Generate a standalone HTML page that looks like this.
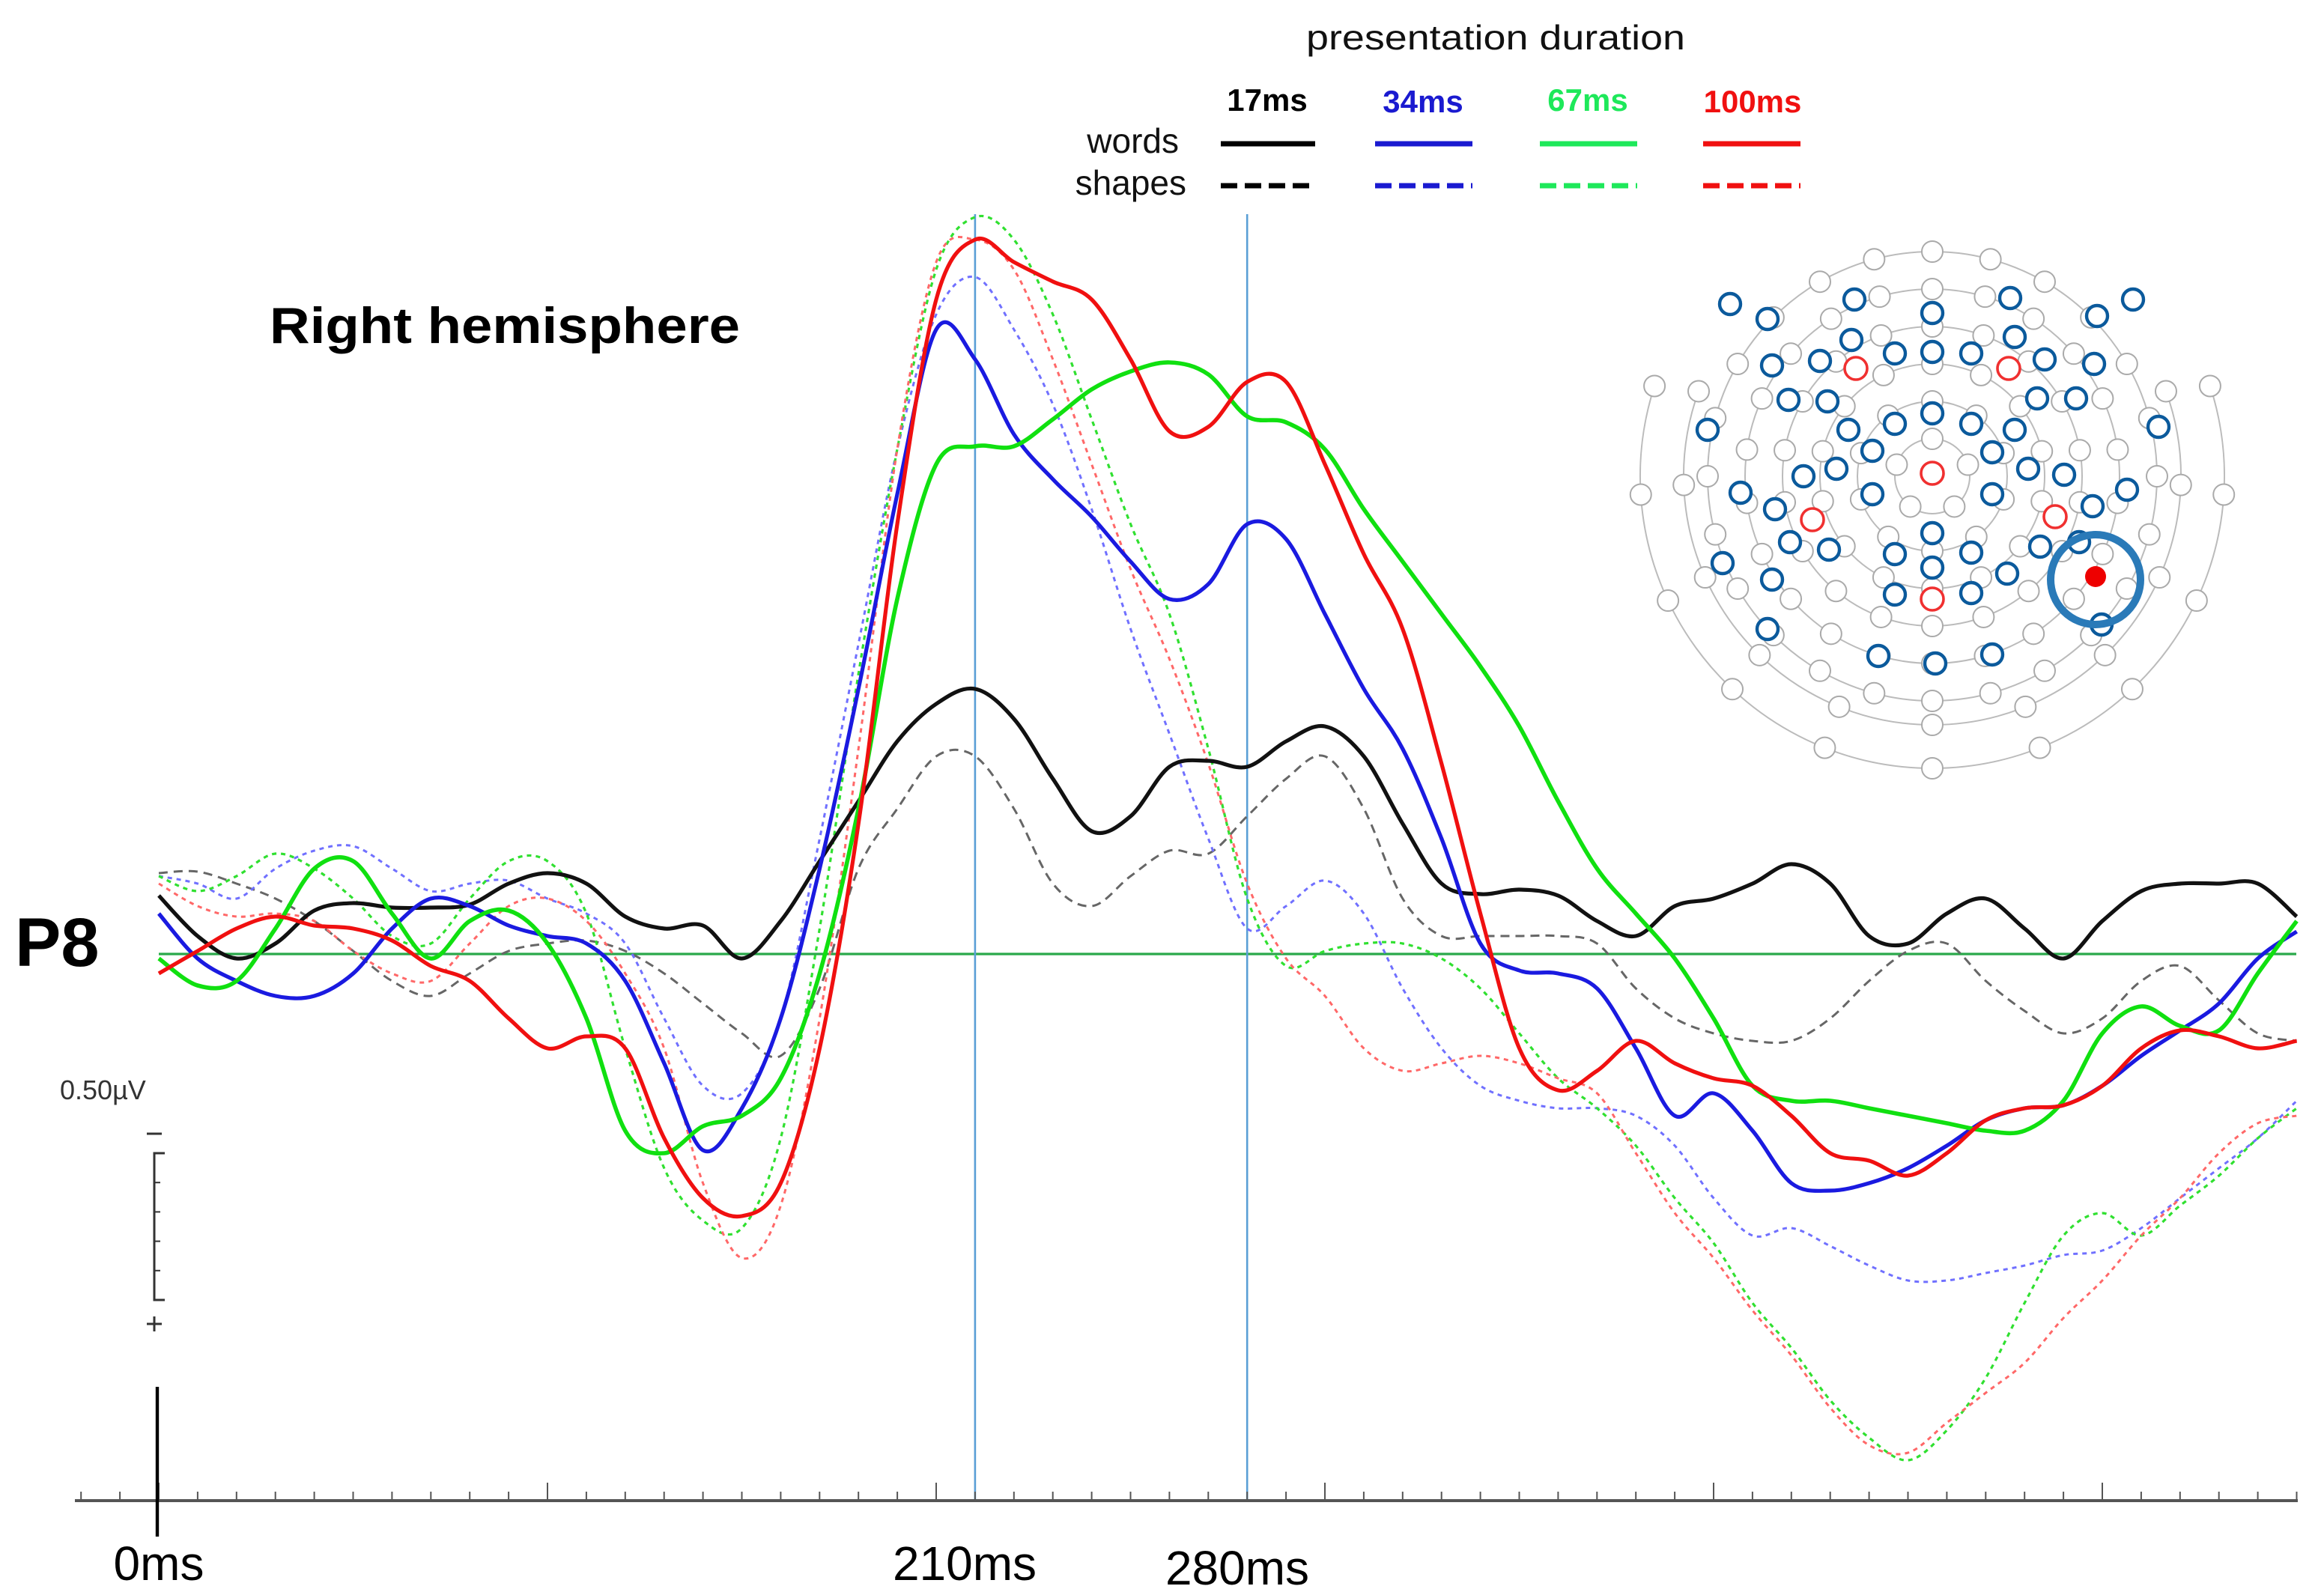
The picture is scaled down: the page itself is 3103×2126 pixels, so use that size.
<!DOCTYPE html>
<html><head><meta charset="utf-8"><style>
html,body{margin:0;padding:0;background:#fff;}
svg{display:block;}
text{font-family:"Liberation Sans",sans-serif;}
</style></head><body>
<svg id="chart" width="3103" height="2126" viewBox="0 0 1551.5 1063" preserveAspectRatio="none" xmlns="http://www.w3.org/2000/svg">
<g id="axes"></g>
<g id="series"></g>
<g id="head"></g>
<g id="labels">
<text x="872" y="33" font-size="23" textLength="253" lengthAdjust="spacingAndGlyphs" fill="#111">presentation duration</text>
<text x="846" y="74" font-size="21" font-weight="bold" text-anchor="middle" fill="#000">17ms</text>
<text x="950" y="75" font-size="21" font-weight="bold" text-anchor="middle" fill="#1a1ad0">34ms</text>
<text x="1060" y="74" font-size="21" font-weight="bold" text-anchor="middle" fill="#1ee85a">67ms</text>
<text x="1170" y="75" font-size="21" font-weight="bold" text-anchor="middle" fill="#f01010">100ms</text>
<text x="787" y="102" font-size="23" text-anchor="end" fill="#111">words</text>
<text x="792" y="130" font-size="23" text-anchor="end" fill="#111">shapes</text>
<text x="180" y="229" font-size="34" font-weight="bold" textLength="314" lengthAdjust="spacingAndGlyphs" fill="#000">Right hemisphere</text>
<text x="10" y="645" font-size="46" font-weight="bold" fill="#000">P8</text>
<text x="40" y="734" font-size="18" fill="#333">0.50µV</text>
<text x="106" y="1055" font-size="32" text-anchor="middle" fill="#000">0ms</text>
<text x="644" y="1055" font-size="32" text-anchor="middle" fill="#000">210ms</text>
<text x="826" y="1058" font-size="32" text-anchor="middle" fill="#000">280ms</text>
</g>
</svg>
<script>
const times=[];for(let t=0;t<=550;t+=10)times.push(t);
const wordsBlack=[-0.39,-0.12,0.03,-0.07,-0.29,-0.34,-0.31,-0.31,-0.33,-0.47,-0.54,-0.47,-0.25,-0.17,-0.19,0.03,-0.22,-0.62,-1.02,-1.42,-1.67,-1.77,-1.57,-1.17,-0.82,-0.92,-1.25,-1.29,-1.25,-1.42,-1.52,-1.32,-0.87,-0.47,-0.40,-0.43,-0.39,-0.22,-0.12,-0.32,-0.37,-0.47,-0.60,-0.47,-0.12,-0.07,-0.27,-0.37,-0.17,0.03,-0.22,-0.42,-0.47,-0.47,-0.47,-0.25];
const shapesBlack=[-0.54,-0.55,-0.47,-0.37,-0.22,-0.02,0.18,0.28,0.13,-0.02,-0.07,-0.09,-0.02,0.13,0.33,0.53,0.68,0.23,-0.57,-0.97,-1.32,-1.32,-0.97,-0.47,-0.32,-0.52,-0.69,-0.67,-0.92,-1.17,-1.32,-0.97,-0.37,-0.12,-0.12,-0.12,-0.12,-0.07,0.23,0.43,0.53,0.58,0.58,0.43,0.18,-0.02,-0.07,0.18,0.38,0.53,0.43,0.18,0.08,0.31,0.53,0.58];
const wordsBlue=[-0.27,0.03,0.18,0.28,0.28,0.13,-0.17,-0.37,-0.32,-0.19,-0.12,-0.07,0.18,0.73,1.31,1.03,0.43,-0.57,-1.77,-3.07,-4.17,-3.97,-3.47,-3.17,-2.92,-2.62,-2.37,-2.47,-2.87,-2.77,-2.27,-1.77,-1.37,-0.77,-0.07,0.11,0.13,0.23,0.63,1.08,0.93,1.18,1.53,1.58,1.53,1.43,1.28,1.11,1.03,1.01,0.88,0.68,0.51,0.33,0.03,-0.15];
const shapesBlue=[-0.52,-0.47,-0.37,-0.57,-0.69,-0.72,-0.57,-0.42,-0.47,-0.49,-0.37,-0.27,-0.07,0.43,0.88,0.93,0.43,-0.77,-2.07,-3.37,-4.27,-4.52,-4.17,-3.67,-2.97,-2.17,-1.47,-0.77,-0.17,-0.32,-0.49,-0.27,0.23,0.63,0.88,0.98,1.03,1.03,1.08,1.28,1.63,1.88,1.83,1.95,2.08,2.18,2.18,2.13,2.08,2.01,1.98,1.83,1.63,1.43,1.23,0.98];
const wordsGreen=[0.03,0.21,0.18,-0.17,-0.57,-0.62,-0.27,0.03,-0.22,-0.29,-0.07,0.43,1.18,1.33,1.15,1.08,0.83,0.13,-0.97,-2.37,-3.27,-3.39,-3.39,-3.57,-3.77,-3.89,-3.95,-3.87,-3.59,-3.55,-3.37,-2.97,-2.62,-2.27,-1.92,-1.52,-1.02,-0.57,-0.27,0.03,0.43,0.88,0.98,0.98,1.03,1.08,1.13,1.18,1.18,0.98,0.53,0.35,0.48,0.51,0.13,-0.22];
const shapesGreen=[-0.52,-0.42,-0.52,-0.67,-0.57,-0.37,-0.12,-0.07,-0.37,-0.62,-0.62,-0.27,0.63,1.43,1.78,1.83,1.23,-0.17,-1.87,-3.37,-4.57,-4.92,-4.77,-4.27,-3.57,-2.87,-2.27,-1.37,-0.37,0.08,-0.02,-0.07,-0.07,0.03,0.23,0.53,0.83,1.03,1.28,1.63,1.93,2.33,2.63,2.98,3.23,3.38,3.18,2.83,2.33,1.88,1.73,1.88,1.68,1.48,1.23,1.03];
const wordsRed=[0.13,-0.02,-0.17,-0.25,-0.19,-0.17,-0.09,0.08,0.18,0.43,0.63,0.55,0.63,1.23,1.63,1.75,1.53,0.63,-0.87,-2.87,-4.37,-4.77,-4.62,-4.49,-4.37,-3.97,-3.49,-3.52,-3.82,-3.82,-3.27,-2.67,-2.17,-1.27,-0.27,0.63,0.91,0.78,0.58,0.73,0.83,0.88,1.08,1.33,1.38,1.48,1.33,1.11,1.03,1.01,0.88,0.63,0.51,0.55,0.63,0.58];
const shapesRed=[-0.47,-0.32,-0.25,-0.27,-0.22,-0.02,0.13,0.18,-0.07,-0.32,-0.37,-0.22,0.13,0.63,1.53,2.03,1.68,0.43,-1.37,-3.37,-4.62,-4.77,-4.57,-3.97,-3.27,-2.57,-1.97,-1.27,-0.47,0.03,0.28,0.63,0.78,0.73,0.68,0.73,0.83,0.93,1.33,1.73,2.03,2.38,2.68,3.03,3.28,3.33,3.13,2.93,2.73,2.43,2.18,1.88,1.63,1.33,1.13,1.08];

const NS='http://www.w3.org/2000/svg';
const X0=106, PXMS=2.595, Y0=637, PXUV=100;
function xs(t){return X0+t*PXMS;}
function ys(v){return Y0+v*PXUV;}
function mk(tag,attrs,parent){const e=document.createElementNS(NS,tag);for(const k in attrs)e.setAttribute(k,attrs[k]);parent.appendChild(e);return e;}

const axes=document.getElementById('axes');
let bl=mk('line',{x1:xs(0),x2:1533,y1:Y0,y2:Y0,stroke:'#2aa84a','stroke-width':1.6},axes);


[210,280].forEach(t=>{
  const l=mk('line',{x1:xs(t),x2:xs(t),y1:143,y2:1003,stroke:'#5a9fd6','stroke-width':1.3},axes);
  
  
});
let ax=mk('line',{x1:50,x2:1534,y1:1002,y2:1002,stroke:'#555','stroke-width':2},axes);


for(let t=-20;t<=550;t+=10){
  const major=(t%100===0);
  const tk=mk('line',{x1:xs(t),x2:xs(t),y1:1002,y2:major?990:996,stroke:'#555','stroke-width':1},axes);
  
  
}
let zl=mk('line',{x1:xs(0)-1,x2:xs(0)-1,y1:926,y2:1026,stroke:'#000','stroke-width':2.2},axes);


const sb=mk('g',{},axes);


mk('line',{x1:98,x2:108,y1:757,y2:757,stroke:'#333','stroke-width':1.5},sb);
mk('path',{d:'M110 770 L103 770 L103 868 L110 868',fill:'none',stroke:'#333','stroke-width':1.5},sb);
for(let i=1;i<5;i++)mk('line',{x1:103,x2:107,y1:770+i*19.6,y2:770+i*19.6,stroke:'#333','stroke-width':1},sb);
mk('line',{x1:98,x2:108,y1:884,y2:884,stroke:'#333','stroke-width':1.5},sb);
mk('line',{x1:103,x2:103,y1:879,y2:889,stroke:'#333','stroke-width':1.5},sb);

function pathFrom(vals){
  const p=times.map((t,i)=>[xs(t),ys(vals[i])]);
  let d='M'+p[0][0].toFixed(1)+' '+p[0][1].toFixed(1);
  for(let i=0;i<p.length-1;i++){
    const a=p[Math.max(0,i-1)],b=p[i],c=p[i+1],e=p[Math.min(p.length-1,i+2)];
    const c1=[b[0]+(c[0]-a[0])/6,b[1]+(c[1]-a[1])/6],c2=[c[0]-(e[0]-b[0])/6,c[1]-(e[1]-b[1])/6];
    d+=' C'+c1[0].toFixed(1)+' '+c1[1].toFixed(1)+' '+c2[0].toFixed(1)+' '+c2[1].toFixed(1)+' '+c[0].toFixed(1)+' '+c[1].toFixed(1);
  }
  return d;
}
const sg=document.getElementById('series');
const defs=[
 ['shapes-17ms',shapesBlack,'#666',1.5,'6 4'],
 ['shapes-34ms',shapesBlue,'#7070ff',1.5,'3 3'],
 ['shapes-67ms',shapesGreen,'#30e030',1.6,'3 3'],
 ['shapes-100ms',shapesRed,'#ff6868',1.5,'3 3'],
 ['words-17ms',wordsBlack,'#111',2.6,null],
 ['words-34ms',wordsBlue,'#1a1ae0',2.6,null],
 ['words-67ms',wordsGreen,'#10e010',2.8,null],
 ['words-100ms',wordsRed,'#f01010',2.6,null]
];
defs.forEach(s=>{
  const a={d:pathFrom(s[1]),fill:'none',stroke:s[2],'stroke-width':s[3],'stroke-linejoin':'round'};
  if(s[4])a['stroke-dasharray']=s[4];
  const e=mk('path',a,sg);
  
  
});
const lg=mk('g',{},sg);


[[815,878,'#000'],[918,983,'#1a1ad0'],[1028,1093,'#1ee85a'],[1137,1202,'#f01010']].forEach(r=>{
  const s=mk('line',{x1:r[0],x2:r[1],y1:96,y2:96,stroke:r[2],'stroke-width':3.5},lg);
  
  
  const d=mk('line',{x1:r[0],x2:r[1],y1:124,y2:124,stroke:r[2],'stroke-width':3.5,'stroke-dasharray':'11 5'},lg);
  
  
});

// head map
const hg=document.getElementById('head');
const cx=1290,cy=318;
const D=Math.PI/180;
[[195,18,10],[166,20,10]].forEach(a=>{
  const r=a[0],e=a[1];
  const p=mk('path',{d:`M${cx-r*Math.cos(e*D)} ${cy-r*Math.sin(e*D)} A${r} ${r} 0 1 0 ${cx+r*Math.cos(e*D)} ${cy-r*Math.sin(e*D)}`,fill:'none',stroke:'#bbb','stroke-width':1},hg);
  
  
  for(let i=0;i<=a[2];i++){
    const ang=(180-e)+i*(180+2*e)/a[2];
    const c=mk('circle',{cx:cx+r*Math.cos(ang*D),cy:cy-r*Math.sin(ang*D),r:7,fill:'#fff',stroke:'#aaa','stroke-width':1},hg);
    
    
  }
});
[150,125,100,75,50,25].forEach(r=>{
  const c=mk('circle',{cx:cx,cy:cy,r:r,fill:'none',stroke:'#bbb','stroke-width':1},hg);
  
  
});
const ringN={25:5,50:10,75:14,100:18,125:22,150:24};
for(const r in ringN){
  const n=ringN[r],R=+r;
  for(let i=0;i<n;i++){
    const ang=(90+i*360/n)*D;
    const c=mk('circle',{cx:cx+R*Math.cos(ang),cy:cy-R*Math.sin(ang),r:7,fill:'#fff',stroke:'#aaa','stroke-width':1},hg);
    
    
  }
}
const blueE=[[1155,203],[1180,213],[1238,200],[1290,209],[1342,199],[1400,211],[1424,200],[1236,227],[1290,235],[1345,225],[1183,244],[1215,241],[1265,236],[1316,236],[1365,240],[1398,243],[1194,267],[1220,268],[1290,276],[1265,283],[1316,283],[1360,266],[1386,266],[1140,287],[1234,287],[1250,301],[1330,302],[1345,287],[1441,285],[1204,318],[1226,313],[1354,313],[1378,317],[1162,329],[1250,330],[1330,330],[1397,338],[1420,327],[1185,340],[1290,356],[1362,365],[1150,376],[1195,362],[1221,367],[1265,370],[1290,379],[1316,369],[1340,383],[1183,387],[1265,397],[1316,396],[1388,362],[1403,417],[1180,420],[1254,438],[1292,443],[1330,437]];
blueE.forEach(p=>{
  const c=mk('circle',{cx:p[0],cy:p[1],r:7,fill:'#fff',stroke:'#0b5a9c','stroke-width':2.2},hg);
  
  
});
[[1239,246],[1341,246],[1290,316],[1210,347],[1372,345],[1290,400]].forEach(p=>{
  const c=mk('circle',{cx:p[0],cy:p[1],r:7.5,fill:'#fff',stroke:'#f03030','stroke-width':1.8},hg);
  
  
});
let hl=mk('circle',{cx:1399,cy:387,r:30,fill:'none',stroke:'#2a7ab8','stroke-width':5},hg);


let pd=mk('circle',{cx:1399,cy:385,r:7,fill:'#ee0000'},hg);


</script>
</body></html>
